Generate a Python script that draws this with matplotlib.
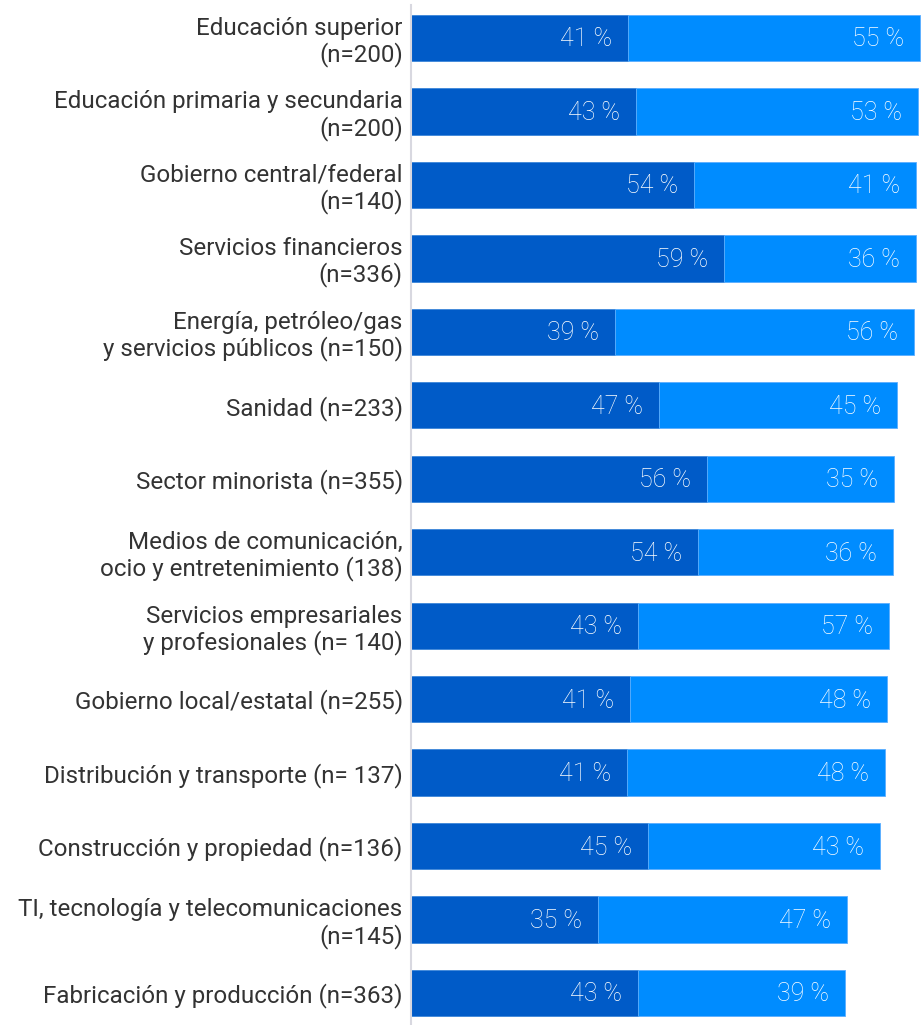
import matplotlib
matplotlib.use("Agg")
import matplotlib.pyplot as plt

categories = [
    "Educación superior\n(n=200)",
    "Educación primaria y secundaria\n(n=200)",
    "Gobierno central/federal\n(n=140)",
    "Servicios financieros\n(n=336)",
    "Energía, petróleo/gas\ny servicios públicos (n=150)",
    "Sanidad (n=233)",
    "Sector minorista (n=355)",
    "Medios de comunicación,\nocio y entretenimiento (138)",
    "Servicios empresariales\ny profesionales (n= 140)",
    "Gobierno local/estatal (n=255)",
    "Distribución y transporte (n= 137)",
    "Construcción y propiedad (n=136)",
    "TI, tecnología y telecomunicaciones\n(n=145)",
    "Fabricación y producción (n=363)",
]
dark_vals = [41, 42.4, 53.4, 59, 38.5, 46.8, 55.8, 54.1, 42.8, 41.3, 40.7, 44.7, 35.3, 42.8]
light_vals = [55, 53.2, 41.9, 36.2, 56.4, 44.9, 35.3, 36.8, 47.3, 48.5, 48.7, 43.8, 47, 39]
dark_labels = ["41 %", "43 %", "54 %", "59 %", "39 %", "47 %", "56 %", "54 %", "43 %", "41 %", "41 %", "45 %", "35 %", "43 %"]
light_labels = ["55 %", "53 %", "41 %", "36 %", "56 %", "45 %", "35 %", "36 %", "57 %", "48 %", "48 %", "43 %", "47 %", "39 %"]

DARK = "#005BC8"
LIGHT = "#008CFF"
TEXT = "#333333"

plt.rcParams["font.family"] = ["Roboto", "DejaVu Sans"]

W, H = 922, 1025
fig = plt.figure(figsize=(W / 100, H / 100), dpi=100)
x0 = 411
ax = fig.add_axes([x0 / W, 0, (W - x0) / W, 1])

px_per_pct = 5.302
pitch = 73.5
ax.set_xlim(0, (W - x0) / px_per_pct)
ax.set_ylim(13 + (H - 993) / pitch, -38 / pitch)

y = list(range(len(categories)))
ax.barh(y, dark_vals, height=0.63, color=DARK, edgecolor="#3d86d9", linewidth=0.6)
ax.barh(y, light_vals, left=dark_vals, height=0.63, color=LIGHT, edgecolor="#5aaeff", linewidth=0.6)

pad = 16 / px_per_pct
for i in y:
    ax.text(dark_vals[i] - pad, i + 0.02, dark_labels[i], ha="right", va="center",
            color="white", fontsize=18, fontweight="light")
    ax.text(dark_vals[i] + light_vals[i] - pad, i + 0.02, light_labels[i], ha="right", va="center",
            color="white", fontsize=18, fontweight="light")

ax.set_yticks(y)
ax.set_yticklabels(categories, fontsize=17.4, color=TEXT, linespacing=1.12)
ax.tick_params(axis="y", length=0, pad=6)
ax.set_xticks([])
for s in ["top", "right", "bottom"]:
    ax.spines[s].set_visible(False)
ax.spines["left"].set_color("#d8d8e0")
ax.spines["left"].set_linewidth(1.5)
ax.spines["left"].set_bounds(13 + (H - 993) / pitch, -33 / pitch)

fig.savefig("out.png", dpi=100)
